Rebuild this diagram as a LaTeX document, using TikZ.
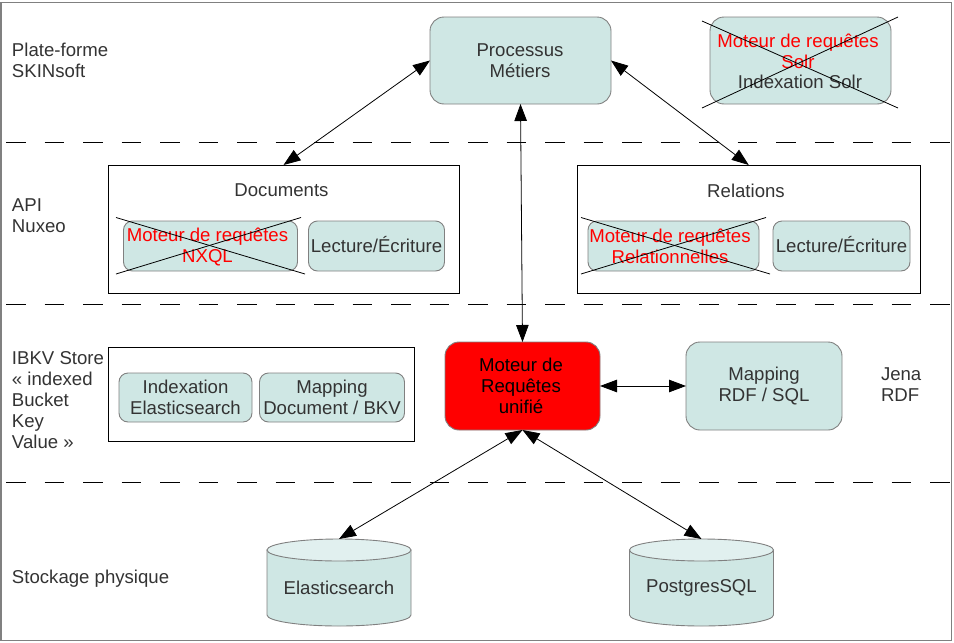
\documentclass[tikz,border=0pt]{standalone}
\usepackage{fontspec}
\setmainfont{Liberation Sans}
\usetikzlibrary{arrows.meta}
\definecolor{tealfill}{HTML}{CFE7E4}
\definecolor{tealtop}{HTML}{E1F0EF}
\definecolor{edgegray}{HTML}{808080}
\definecolor{txt}{HTML}{333333}
\tikzset{
  x=1pt,y=-1pt,
  every node/.style={font=\fontsize{18.6}{21}\selectfont,inner sep=0pt,outer sep=0pt,align=center,text=txt},
  boxnode/.style={draw=edgegray,fill=tealfill,rounded corners=#1,line width=0.9pt},
  boxnode/.default=12pt,
  frame/.style={draw=black,line width=0.9pt},
  lab/.style={align=left,anchor=north west},
  redtxt/.style={text=red},
  conn/.style={draw=black,line width=0.8pt,{Triangle[length=17pt,width=12.5pt]}-{Triangle[length=17pt,width=12.5pt]}},
  crossline/.style={draw=black,line width=0.8pt},
  sep/.style={draw=black,line width=0.8pt,dash pattern=on 19.5pt off 19pt},
  cyl/.style={draw=edgegray,fill=tealfill,line width=0.9pt},
  cyltop/.style={draw=edgegray,fill=tealtop,line width=0.9pt},
}
\begin{document}
\begin{tikzpicture}
\useasboundingbox (0,0) rectangle (954,643);
\draw[edgegray,line width=1.2pt] (1,2.5) rectangle (951.5,640.5);
% separators
\coordinate (s1a) at (6,142); \coordinate (s1b) at (950,142);
\coordinate (s2a) at (6,304); \coordinate (s2b) at (950,304);
\coordinate (s3a) at (6,482); \coordinate (s3b) at (950,482);
\draw[sep] (s1a) -- (s1b);
\draw[sep] (s2a) -- (s2b);
\draw[sep] (s3a) -- (s3b);
% left labels
\node[lab] (l1) at (12,43) {Plate-forme\\SKINsoft};
\node[lab] (l2) at (12,199) {API\\Nuxeo};
\node[lab] (l3) at (12,352) {IBKV Store\\« indexed\\Bucket\\Key\\Value »};
\node[lab] (l4) at (12,570) {Stockage physique};
\node[lab] (l5) at (881,368) {Jena\\RDF};
% frames
\node[frame,minimum width=351pt,minimum height=128pt,anchor=north west] (docs) at (108,165) {};
\node[frame,minimum width=342.5pt,minimum height=128pt,anchor=north west] (rels) at (577.5,165) {};
\node[frame,minimum width=306pt,minimum height=94pt,anchor=north west] (ibkv) at (108,347) {};
\node (docst) at (281.5,190.5) {Documents};
\node (relst) at (746,190.5) {Relations};
% top boxes
\node[boxnode=14pt,minimum width=181pt,minimum height=87pt,anchor=north west] (proc) at (430,17) {};
\node (proct) at (520,60.5) {Processus\\Métiers};
\node[boxnode=14pt,minimum width=181pt,minimum height=87pt,anchor=north west] (solr) at (710,17) {};
\node[redtxt] (solrm) at (798,51) {Moteur de requêtes\\Solr};
\node (solrt) at (800,82) {Indexation Solr};
% API boxes
\node[boxnode=9pt,minimum width=174pt,minimum height=50pt,anchor=north west] (nxql) at (123.5,221) {};
\node[redtxt] (nxqlt) at (207.5,246.5) {Moteur de requêtes\\NXQL};
\node[boxnode=9pt,minimum width=136pt,minimum height=50pt,anchor=north west] (lec1) at (308.5,221) {};
\node (lec1t) at (376.5,245) {Lecture/Écriture};
\node[boxnode=9pt,minimum width=171pt,minimum height=50pt,anchor=north west] (relm) at (588,221) {};
\node[redtxt] (relmt) at (670,246) {Moteur de requêtes\\Relationnelles};
\node[boxnode=9pt,minimum width=137pt,minimum height=50pt,anchor=north west] (lec2) at (773,221) {};
\node (lec2t) at (841.5,245) {Lecture/Écriture};
% IBKV boxes
\node[boxnode=9pt,minimum width=133pt,minimum height=49pt,anchor=north west] (idx) at (119,373) {Indexation\\Elasticsearch};
\node[boxnode=9pt,minimum width=145pt,minimum height=49pt,anchor=north west] (map) at (259.5,373) {Mapping\\Document / BKV};
% centre
\node[boxnode=14pt,fill=red,minimum width=155pt,minimum height=88pt,anchor=north west] (mot) at (445,342) {};
\node[text=black] (mott) at (521,386) {Moteur de\\Requêtes\\unifié};
\node[boxnode=14pt,minimum width=156pt,minimum height=88pt,anchor=north west] (rdf) at (686,342) {};
\node (rdft) at (764,386) {Mapping\\RDF / SQL};
% cylinders
\coordinate (ctop1) at (339,539);
\path[cyl] (267,550) -- (267,615) arc[start angle=180,end angle=0,x radius=72,y radius=11] -- (411,550) -- cycle;
\draw[cyltop] (339,550) ellipse[x radius=72,y radius=11];
\node (cyl1t) at (339,588) {Elasticsearch};
\coordinate (ctop2) at (701.5,539);
\path[cyl] (629.5,550) -- (629.5,615) arc[start angle=180,end angle=0,x radius=72,y radius=11] -- (773.5,550) -- cycle;
\draw[cyltop] (701.5,550) ellipse[x radius=72,y radius=11];
\node (cyl2t) at (701.5,588) {PostgresSQL};
% crosses
\coordinate (c1a) at (702,21); \coordinate (c1b) at (898,108);
\coordinate (c1c) at (702,108); \coordinate (c1d) at (898,17);
\draw[crossline] (c1a) -- (c1b);
\draw[crossline] (c1c) -- (c1d);
\coordinate (c2a) at (116,217.5); \coordinate (c2b) at (305,274);
\coordinate (c2c) at (116,274); \coordinate (c2d) at (301,217.5);
\draw[crossline] (c2a) -- (c2b);
\draw[crossline] (c2c) -- (c2d);
\coordinate (c3a) at (581,217.5); \coordinate (c3b) at (770,274);
\coordinate (c3c) at (581,274); \coordinate (c3d) at (766,217.5);
\draw[crossline] (c3a) -- (c3b);
\draw[crossline] (c3c) -- (c3d);
% connectors
\draw[conn] (proc.west) -- (docs.north);
\draw[conn] (proc.east) -- (rels.north);
\draw[conn] (proc.south) -- (mot.north);
\draw[conn] (mot.east) -- (rdf.west);
\draw[conn] (mot.south) -- (ctop1);
\draw[conn] (mot.south) -- (ctop2);
\end{tikzpicture}
\end{document}
